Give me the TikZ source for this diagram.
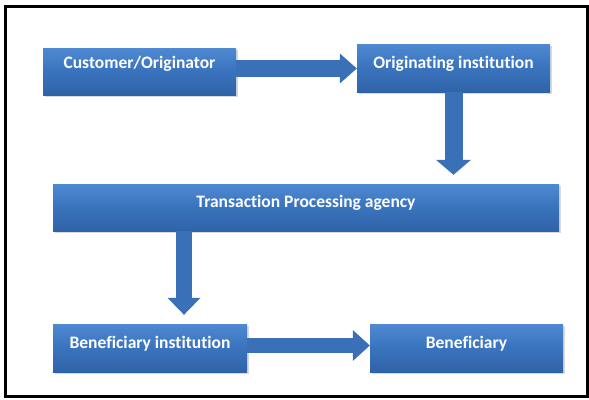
\documentclass[tikz,border=0pt]{standalone}
\usepackage{fontspec}
\setmainfont{Carlito}[Ligatures=NoCommon]
\usetikzlibrary{arrows.meta,shadows}
\definecolor{boxmid}{HTML}{3A73BD}
\definecolor{boxtop}{HTML}{4F89D2}
\definecolor{boxbot}{HTML}{2F63A8}
\definecolor{arrowblue}{HTML}{3970B8}
\begin{document}
\begin{tikzpicture}[x=1pt,y=-1pt,
  flowbox/.style={rectangle, top color=boxtop, bottom color=boxbot, middle color=boxmid,
    drop shadow={shadow xshift=1.5pt, shadow yshift=-2pt, opacity=0.3},
    text=white, font=\fontsize{17.5}{20}\selectfont\bfseries, inner sep=0pt,
    text height=9pt, text depth=9pt},
  blockarrow/.style={draw=arrowblue, line cap=butt}
]
\useasboundingbox (0,0) rectangle (589,399);
\draw[line width=3pt] (5.5,6.5) rectangle (587.5,396);

\node[flowbox, minimum width=193pt, minimum height=47pt, text depth=15pt] (cust) at (139.5,71.5) {Customer/Originator};
\node[flowbox, minimum width=193pt, minimum height=48pt] (orig) at (453.5,68) {Originating institution};
\node[flowbox, minimum width=506pt, minimum height=47pt] (trans) at (306,207.5) {Transaction Processing agency};
\node[flowbox, minimum width=194pt, minimum height=48pt] (beni) at (150,348) {Beneficiary institution};
\node[flowbox, minimum width=193pt, minimum height=48pt] (ben) at (466.5,348) {Beneficiary};

\draw[blockarrow, line width=17pt, -{Triangle[width=30pt,length=17pt,line width=0pt]}]
  ([yshift=3pt]cust.east) -- ([yshift=3pt]cust.east -| orig.west);
\draw[blockarrow, line width=18pt, -{Triangle[width=35pt,length=15pt,line width=0pt]}, shorten >=9pt]
  (orig.south) -- (orig.south |- trans.north);
\draw[blockarrow, line width=16pt, -{Triangle[width=33pt,length=17pt,line width=0pt]}, shorten >=9pt]
  ([xshift=-122pt]trans.south) -- ([xshift=34pt]beni.north);
\draw[blockarrow, line width=15pt, -{Triangle[width=31pt,length=17pt,line width=0pt]}]
  ([yshift=2.5pt]beni.east) -- ([yshift=2.5pt]ben.west);
\end{tikzpicture}
\end{document}
